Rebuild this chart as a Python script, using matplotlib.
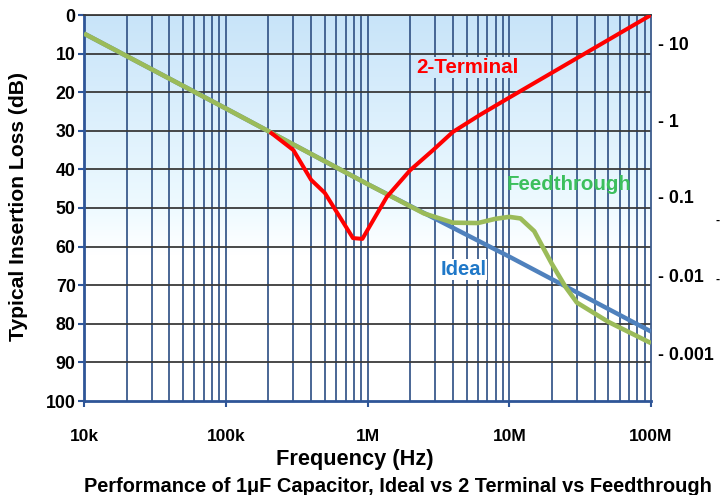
import numpy as np
import matplotlib
matplotlib.use("Agg")
import matplotlib.pyplot as plt
from matplotlib.colors import LinearSegmentedColormap

plt.rcParams['font.family'] = ['Liberation Sans', 'DejaVu Sans']

# ---- data ----
ideal_freq = [1e4, 1e5, 1e6, 1e7, 1e8]
ideal_db = [4.8, 24.2, 43.8, 62.6, 82.0]

feed_freq = [1e4, 1e5, 1e6, 2.5e6, 4e6, 6e6, 8e6, 1e7, 1.2e7, 1.5e7, 2e7, 2.5e7, 3e7, 5e7, 1e8]
feed_db = [4.8, 24.2, 43.8, 51.4, 53.8, 53.9, 52.8, 52.3, 52.7, 56.0, 64.5, 70.5, 74.5, 79.5, 85.0]

two_freq = [2.05e5, 3e5, 4e5, 5e5, 7.9e5, 9.2e5, 1.1e6, 1.37e6, 2e6, 2.9e6, 4e6, 6.2e6, 1e7, 1e8]
two_db = [30.3, 35.0, 42.7, 46.1, 57.8, 58.0, 53.1, 47.1, 40.2, 35.0, 30.3, 25.9, 21.4, 0.0]

x_ticks = [1e4, 1e5, 1e6, 1e7, 1e8]
x_labels = ['10k', '100k', '1M', '10M', '100M']
y_ticks = [0, 10, 20, 30, 40, 50, 60, 70, 80, 90, 100]
right_ticks_db = [7.3, 27.3, 47.0, 67.4, 87.8]
right_labels = ['- 10', '- 1', '- 0.1', '- 0.01', '- 0.001']

# ---- figure ----
fig = plt.figure(figsize=(7.2, 4.95), dpi=100)
ax = fig.add_axes([84/720, 1-401/495, 567/720, 386/495])
ax.set_xscale('log')
ax.set_xlim(1e4, 1e8)
ax.set_ylim(100, 0)

# gradient background
n = 256
frac = np.linspace(0, 1, n)  # 0 bottom -> 1 top
cmap = LinearSegmentedColormap.from_list('bg', [(0.0, '#ffffff'), (0.38, '#ffffff'),
                                                (0.5, '#eefaff'), (1.0, '#c8e4f9')])
grad = frac[:, None]
ax.imshow(grad, cmap=cmap, vmin=0, vmax=1, extent=[0, 1, 0, 1], transform=ax.transAxes,
          aspect='auto', origin='lower', zorder=0)

# grid lines
grid_blue = '#3b5b8c'
for dec in range(4, 8):
    for m in range(1, 10):
        f = m * 10**dec
        if f <= 1e4:
            continue
        ax.axvline(f, color=grid_blue, lw=1.3, zorder=1)
for yv in y_ticks[:-1]:
    ax.axhline(yv, color='#3a3a3a', lw=1.3, zorder=1)

ax.plot(ideal_freq, ideal_db, color='#4f81bd', lw=3.2, zorder=3, solid_capstyle='butt')
ax.plot(feed_freq, feed_db, color='#9bbb59', lw=3.3, zorder=4, solid_capstyle='butt')
ax.plot(two_freq, two_db, color='#ff0000', lw=2.9, zorder=5, solid_capstyle='butt')

ax.text(5.1e6, 13.5, '2-Terminal', color='#ff0000', fontsize=14.8, fontweight='bold',
        ha='center', va='center', zorder=6,
        bbox=dict(boxstyle='square,pad=0.05', fc='#d0e8fa', ec='none'))
ax.text(2.65e7, 43.8, 'Feedthrough', color='#3cbf5c', fontsize=14.8, fontweight='bold',
        ha='center', va='center', zorder=6)
ax.text(4.73e6, 66.0, 'Ideal', color='#1f78c8', fontsize=14.5, fontweight='bold',
        ha='center', va='center', zorder=6,
        bbox=dict(boxstyle='square,pad=0.05', fc='#ffffff', ec='none'))

# spines
for s in ['left', 'bottom']:
    ax.spines[s].set_color('#2e5597')
    ax.spines[s].set_linewidth(2)
ax.spines['top'].set_color('#3a3a3a')
ax.spines['top'].set_linewidth(1.3)
ax.spines['right'].set_color(grid_blue)
ax.spines['right'].set_linewidth(1.3)

ax.set_xticks(x_ticks)
ax.set_xticklabels(x_labels)
ax.xaxis.set_minor_locator(matplotlib.ticker.NullLocator())
ax.set_yticks(y_ticks)
ax.set_yticklabels([str(v) for v in y_ticks])
ax.tick_params(axis='x', direction='out', length=4, width=1.5, color='#2e5597', pad=16,
               labelsize=12.5)
ax.tick_params(axis='y', direction='out', length=4, width=1.5, color='#2e5597', pad=2,
               labelsize=12.8)
for lab in ax.get_xticklabels() + ax.get_yticklabels():
    lab.set_fontweight('bold')

ax2 = ax.twinx()
ax2.set_ylim(100, 0)
ax2.set_yticks(right_ticks_db)
ax2.set_yticklabels(right_labels)
ax2.tick_params(axis='y', length=0, pad=5, labelsize=12.8)
for lab in ax2.get_yticklabels():
    lab.set_fontweight('bold')
for s in ax2.spines.values():
    s.set_visible(False)

ax.set_ylabel('Typical Insertion Loss (dB)', fontsize=15.2, fontweight='bold')
ax.yaxis.set_label_coords(-0.098, 0.505)
ax.set_xlabel('Frequency (Hz)', fontsize=15.7, fontweight='bold')
ax.xaxis.set_label_coords(0.478, -0.125)

fig.text(0.552, 1-486/495, 'Performance of 1\u03bcF Capacitor, Ideal vs 2 Terminal vs Feedthrough',
         ha='center', va='center', fontsize=14.4, fontweight='bold')

fig.text(718/720, 1-221/495, '-', ha='center', va='center', fontsize=9, fontweight='bold')
fig.text(718/720, 1-280/495, '-', ha='center', va='center', fontsize=9, fontweight='bold')

fig.savefig('out.png', dpi=100)
